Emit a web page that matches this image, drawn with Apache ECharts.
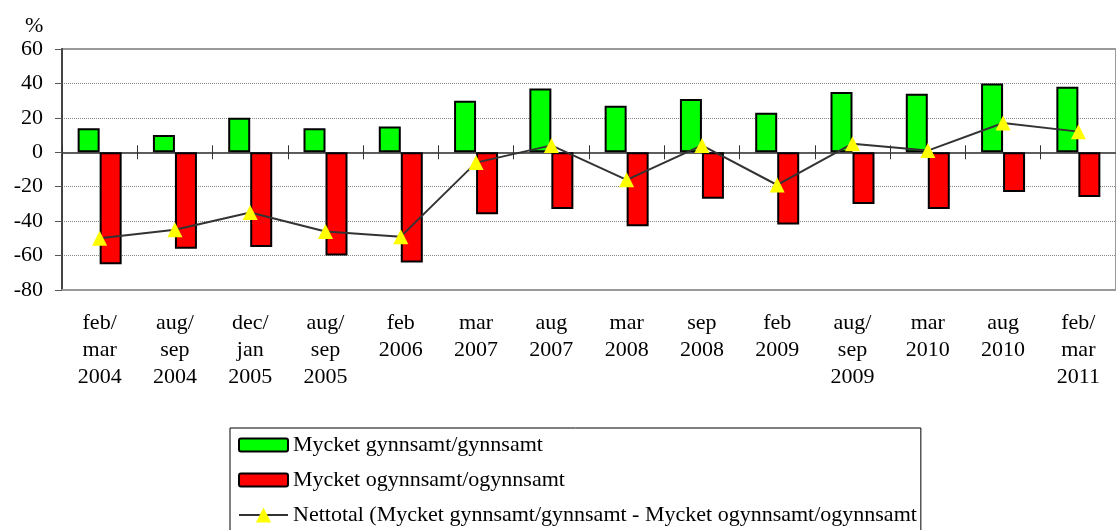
<!DOCTYPE html>
<html>
<head>
<meta charset="utf-8">
<script src="https://cdn.jsdelivr.net/npm/echarts@6/dist/echarts.min.js"></script>
<style>
  html, body { margin: 0; padding: 0; background: #fff; }
  #chart { width: 1116px; height: 530px; }
</style>
</head>
<body>
<div id="chart"></div>
<script>
const periods = [
    'feb/\nmar\n2004', 'aug/\nsep\n2004', 'dec/\njan\n2005', 'aug/\nsep\n2005', 'feb\n2006',
    'mar\n2007', 'aug\n2007', 'mar\n2008', 'sep\n2008', 'feb\n2009',
    'aug/\nsep\n2009', 'mar\n2010', 'aug\n2010', 'feb/\nmar\n2011'
];
const favourable = [14, 10, 20, 14, 15, 30, 37, 27, 31, 23, 35, 34, 40, 38];
const unfavourable = [-65, -56, -55, -60, -64, -36, -33, -43, -27, -42, -30, -33, -23, -26];
const netTotal = [-50, -45, -35, -46, -49, -6, 4, -16, 4, -19, 5, 1, 17, 12];
const yTicks = [-80, -60, -40, -20, 0, 20, 40, 60];

const seriesNames = [
    'Mycket gynnsamt/gynnsamt',
    'Mycket ogynnsamt/ogynnsamt',
    'Nettotal (Mycket gynnsamt/gynnsamt - Mycket ogynnsamt/ogynnsamt'
];

const serif = '"Liberation Serif", "DejaVu Serif", serif';
// bar legend icon: 49x13 box kept inside a taller legend slot
const barIcon = 'path://M2,0 h45 a2,2 0 0 1 2,2 v9 a2,2 0 0 1 -2,2 h-45 a2,2 0 0 1 -2,-2 v-9 a2,2 0 0 1 2,-2 Z';

const chart = echarts.init(document.getElementById('chart'));

const option = {
    animation: false,
    textStyle: { fontFamily: serif },
    title: {
        text: '%',
        left: 20,
        top: 10,
        textStyle: { fontFamily: serif, fontSize: 22, fontWeight: 'normal', color: '#000' }
    },
    grid: {
        left: 62,
        top: 49,
        bottom: 240,
        right: -14,
        show: true,
        borderColor: '#999',
        borderWidth: 2
    },
    legend: {
        orient: 'vertical',
        left: 230,
        top: 428,
        height: 200,
        padding: [6, 4, 10, 8],
        itemGap: 13,
        itemWidth: 49,
        itemHeight: 19,
        borderColor: '#000',
        borderWidth: 1,
        borderRadius: 0,
        textStyle: { fontFamily: serif, fontSize: 22, color: '#000' },
        data: [
            { name: seriesNames[0], icon: barIcon, symbolKeepAspect: true },
            { name: seriesNames[1], icon: barIcon, symbolKeepAspect: true },
            { name: seriesNames[2] }
        ]
    },
    xAxis: [
        {
            type: 'category',
            data: periods,
            position: 'bottom',
            axisLine: { onZero: false, lineStyle: { color: '#999', width: 2 } },
            axisTick: { show: false },
            axisLabel: {
                interval: 0,
                margin: 20,
                fontSize: 22,
                lineHeight: 27,
                color: '#000',
                fontFamily: serif
            }
        },
        {
            type: 'category',
            data: periods,
            axisLine: { onZero: true, onZeroAxisIndex: 0, lineStyle: { color: '#555', width: 1.5 } },
            axisTick: { show: true, length: 7, inside: false, lineStyle: { color: '#333' } },
            axisLabel: { show: false }
        },
        {
            type: 'category',
            data: periods,
            axisLine: { onZero: true, onZeroAxisIndex: 0, lineStyle: { color: '#555', width: 1.5 } },
            axisTick: { show: true, length: 7, inside: true, lineStyle: { color: '#333' } },
            axisLabel: { show: false }
        }
    ],
    yAxis: {
        type: 'value',
        min: yTicks[0],
        max: yTicks[yTicks.length - 1],
        interval: 20,
        axisLine: { show: true, lineStyle: { color: '#444', width: 2 } },
        axisTick: { show: true, length: 7, lineStyle: { color: '#555' } },
        axisLabel: { fontSize: 22, color: '#000', margin: 19, fontFamily: serif },
        splitLine: {
            show: true,
            showMinLine: false,
            showMaxLine: false,
            lineStyle: { type: 'dotted', color: '#888', width: 1 }
        }
    },
    series: [
        {
            name: seriesNames[0],
            type: 'bar',
            xAxisIndex: 0,
            data: favourable,
            barWidth: 22,
            barGap: '0%',
            itemStyle: { color: '#00ff00', borderColor: '#000', borderWidth: 2 }
        },
        {
            name: seriesNames[1],
            type: 'bar',
            xAxisIndex: 0,
            data: unfavourable,
            barWidth: 22,
            barGap: '0%',
            itemStyle: { color: '#ff0000', borderColor: '#000', borderWidth: 2 }
        },
        {
            name: seriesNames[2],
            type: 'line',
            xAxisIndex: 0,
            data: netTotal,
            z: 5,
            symbol: 'triangle',
            symbolSize: 15,
            lineStyle: { color: '#333', width: 2 },
            itemStyle: { color: '#ffff00', borderWidth: 0 }
        }
    ]
};

chart.setOption(option);
</script>
</body>
</html>
